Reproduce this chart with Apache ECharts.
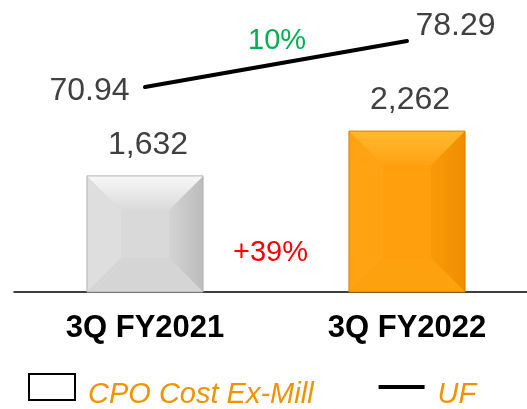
<!DOCTYPE html>
<html lang="en">
<head>
    <meta charset="UTF-8">
    <title>CPO Cost Ex-Mill vs UF</title>
    <style>
        body { margin: 0; background: #fff; }
        #chart { width: 527px; height: 409px; }
    </style>
</head>
<body>
    <div id="chart"></div>
    <script src="https://cdn.jsdelivr.net/npm/echarts@6.0.0/dist/echarts.min.js"></script>
    <script>
        const categories = ['3Q FY2021', '3Q FY2022'];
        const cpoCost = [1632, 2262];
        const uf = [70.94, 78.29];
        const ufChange = '10%';
        const costChange = '+39%';

        const FONT = '"Liberation Sans", Arial, sans-serif';

        // bevel shades per bar
        const bevel = [
            { topHi: '#f8f8f8', topLo: '#dadada', left: '#dedede', mid: '#d9d9d9', rightIn: '#d3d3d3', rightOut: '#bcbcbc', bottom: '#d5d5d5', edge: '#b0b0b0' },
            { topHi: '#ffb92e', topLo: '#ffa214', left: '#ffa313', mid: '#ff9f0d', rightIn: '#fb9a06', rightOut: '#ef8d00', bottom: '#fda10f', edge: '#d98000' }
        ];

        const chart = echarts.init(document.getElementById('chart'));

        function renderBevelBar(params, api) {
            const top = api.coord([api.value(0), api.value(1)]);
            const base = api.coord([api.value(0), 0]);
            const w = api.size([1, 0])[0] * 0.443;
            const b = 34;
            const l = top[0] - w / 2, r = top[0] + w / 2, t = top[1], btm = base[1];
            const c = bevel[params.dataIndex];
            const poly = (pts, fill) => ({ type: 'polygon', shape: { points: pts }, style: { fill: fill } });
            return {
                type: 'group',
                children: [
                    poly([[l, t], [r, t], [r, btm], [l, btm]], c.mid),
                    poly([[l, t], [l + b, t + b], [l + b, btm - b], [l, btm]], c.left),
                    poly([[r, t], [r, btm], [r - b, btm - b], [r - b, t + b]],
                        new echarts.graphic.LinearGradient(1, 0, 0, 0, [{ offset: 0, color: c.rightOut }, { offset: 1, color: c.rightIn }])),
                    poly([[l, btm], [l + b, btm - b], [r - b, btm - b], [r, btm]], c.bottom),
                    poly([[l, t], [r, t], [r - b, t + b], [l + b, t + b]],
                        new echarts.graphic.LinearGradient(0, 0, 0, 1, [{ offset: 0, color: c.topHi }, { offset: 1, color: c.topLo }])),
                    { type: 'rect', shape: { x: l, y: t, width: w, height: btm - t },
                      style: { fill: null, stroke: c.edge, lineWidth: 1 } },
                    { type: 'text', style: {
                        text: api.value(1).toLocaleString('en-US'),
                        x: top[0] + 3, y: t - 15, align: 'center', verticalAlign: 'bottom',
                        fill: '#404040', fontSize: 32, fontFamily: FONT } }
                ]
            };
        }

        const option = {
            animation: false,
            grid: { left: 14, width: 524, top: 0, bottom: 117, outerBoundsMode: 'none' },
            legend: {
                // top padding on the text pushes the words a little below the icon centre
                left: 23, top: 368, itemWidth: 46, itemHeight: 26, itemGap: 65,
                formatter: '{t|{name}}',
                textStyle: {
                    color: '#f39200', fontSize: 29, fontStyle: 'italic', fontFamily: FONT,
                    rich: { t: { color: '#f39200', fontSize: 29, fontStyle: 'italic', fontFamily: FONT, padding: [16, 0, 0, 8] } }
                },
                data: [
                    { name: 'CPO Cost Ex-Mill', icon: 'rect', itemStyle: { color: '#fff', borderColor: '#000', borderWidth: 2 } },
                    { name: 'UF', icon: 'path://M0,0H44V4H0Z', itemStyle: { color: '#000' } }
                ]
            },
            xAxis: {
                type: 'category', data: categories,
                axisLine: { lineStyle: { color: '#000', width: 1.5 } },
                axisTick: { show: false },
                axisLabel: { color: '#000', fontSize: 31, fontWeight: 'bold', fontFamily: FONT, margin: 21 }
            },
            yAxis: [
                { type: 'value', min: 0, max: 4105, show: false },
                { type: 'value', min: 38.2, max: 84.85, show: false }
            ],
            graphic: [
                { type: 'text', left: 248, top: 26, style: { text: ufChange, fill: '#00b050', fontSize: 29, fontFamily: FONT } },
                { type: 'text', left: 233, top: 238, style: { text: costChange, fill: '#ff0000', fontSize: 29, fontFamily: FONT } }
            ],
            series: [
                {
                    name: 'CPO Cost Ex-Mill', type: 'custom', renderItem: renderBevelBar,
                    itemStyle: { color: '#fff' },
                    encode: { x: 0, y: 1 },
                    data: cpoCost.map((v, i) => [i, v])
                },
                {
                    name: 'UF', type: 'line', yAxisIndex: 1, z: 5,
                    symbol: 'circle', symbolSize: 1, showSymbol: true,
                    lineStyle: { color: '#000', width: 4, cap: 'round' },
                    itemStyle: { color: '#000' },
                    label: { show: true, color: '#404040', fontSize: 32, fontFamily: FONT },
                    data: [
                        { value: uf[0], label: { position: 'left', distance: 15, offset: [0, 4] } },
                        { value: uf[1], label: { position: 'right', distance: 8, offset: [0, -15] } }
                    ]
                }
            ]
        };
        chart.setOption(option);
    </script>
</body>
</html>
